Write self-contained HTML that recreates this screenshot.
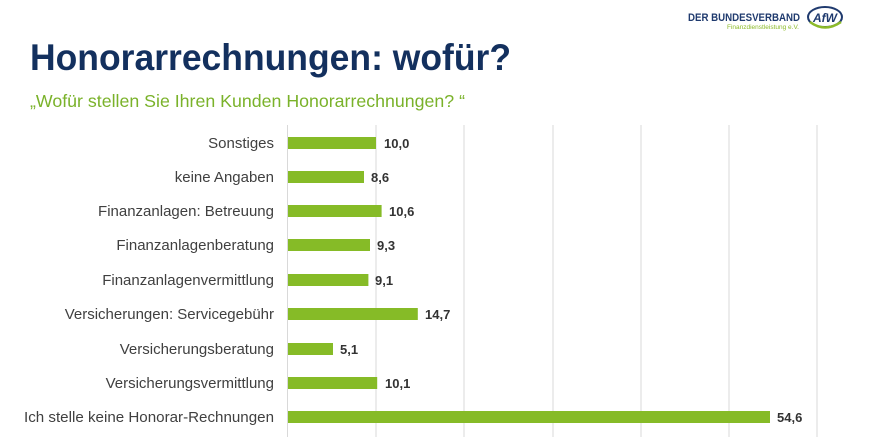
<!DOCTYPE html>
<html><head><meta charset="utf-8"><style>
html,body{margin:0;padding:0;background:#fff;width:872px;height:446px;overflow:hidden}
</style></head><body>
<svg width="872" height="446" xmlns="http://www.w3.org/2000/svg" style="font-family:'Liberation Sans',sans-serif">
<rect width="872" height="446" fill="#fff"/>
<text x="688" y="21" font-size="11" font-weight="bold" fill="#1f3a6e" textLength="112" lengthAdjust="spacingAndGlyphs">DER BUNDESVERBAND</text>
<text x="727" y="29" font-size="6" fill="#8dbb2a" textLength="72" lengthAdjust="spacingAndGlyphs">Finanzdienstleistung e.V.</text>
<ellipse cx="825" cy="17" rx="17" ry="10" fill="none" stroke="#1f3a6e" stroke-width="2"/>
<path d="M810 22 Q825 33 841 22" fill="none" stroke="#8dbb2a" stroke-width="2.5"/>
<text x="825" y="22" font-size="12" font-weight="bold" fill="#1f3a6e" text-anchor="middle" font-style="italic">AfW</text>
<text x="30" y="70" font-size="37" font-weight="bold" fill="#13305e" textLength="481" lengthAdjust="spacingAndGlyphs">Honorarrechnungen: wofür?</text>
<text x="30" y="107" font-size="17.5" fill="#7ab22a" textLength="435" lengthAdjust="spacingAndGlyphs">„Wofür stellen Sie Ihren Kunden Honorarrechnungen? “</text>
<g stroke="#d9d9d9" stroke-width="1">
<line x1="287.5" y1="125" x2="287.5" y2="437"/>
<line x1="376" y1="125" x2="376" y2="437"/>
<line x1="464" y1="125" x2="464" y2="437"/>
<line x1="553" y1="125" x2="553" y2="437"/>
<line x1="641" y1="125" x2="641" y2="437"/>
<line x1="729" y1="125" x2="729" y2="437"/>
<line x1="817" y1="125" x2="817" y2="437"/>
</g>
<g font-size="15" fill="#404040" text-anchor="end">
<text x="274" y="148">Sonstiges</text>
<text x="274" y="182">keine Angaben</text>
<text x="274" y="216">Finanzanlagen: Betreuung</text>
<text x="274" y="250">Finanzanlagenberatung</text>
<text x="274" y="285">Finanzanlagenvermittlung</text>
<text x="274" y="319">Versicherungen: Servicegebühr</text>
<text x="274" y="354">Versicherungsberatung</text>
<text x="274" y="388">Versicherungsvermittlung</text>
<text x="274" y="422" textLength="250" lengthAdjust="spacingAndGlyphs">Ich stelle keine Honorar-Rechnungen</text>
</g>
<g fill="#86bb27">
<rect x="288" y="137" width="88" height="12"/>
<rect x="288" y="171" width="76" height="12"/>
<rect x="288" y="205" width="93.6" height="12"/>
<rect x="288" y="239" width="82" height="12"/>
<rect x="288" y="274" width="80.4" height="12"/>
<rect x="288" y="308" width="129.8" height="12"/>
<rect x="288" y="343" width="45" height="12"/>
<rect x="288" y="377" width="89.2" height="12"/>
<rect x="288" y="411" width="482" height="12"/>
</g>
<g font-size="13" font-weight="bold" fill="#333">
<text x="384" y="148">10,0</text>
<text x="371" y="182">8,6</text>
<text x="389" y="216">10,6</text>
<text x="377" y="250">9,3</text>
<text x="375" y="285">9,1</text>
<text x="425" y="319">14,7</text>
<text x="340" y="354">5,1</text>
<text x="385" y="388">10,1</text>
<text x="777" y="422">54,6</text>
</g>
</svg>
</body></html>
